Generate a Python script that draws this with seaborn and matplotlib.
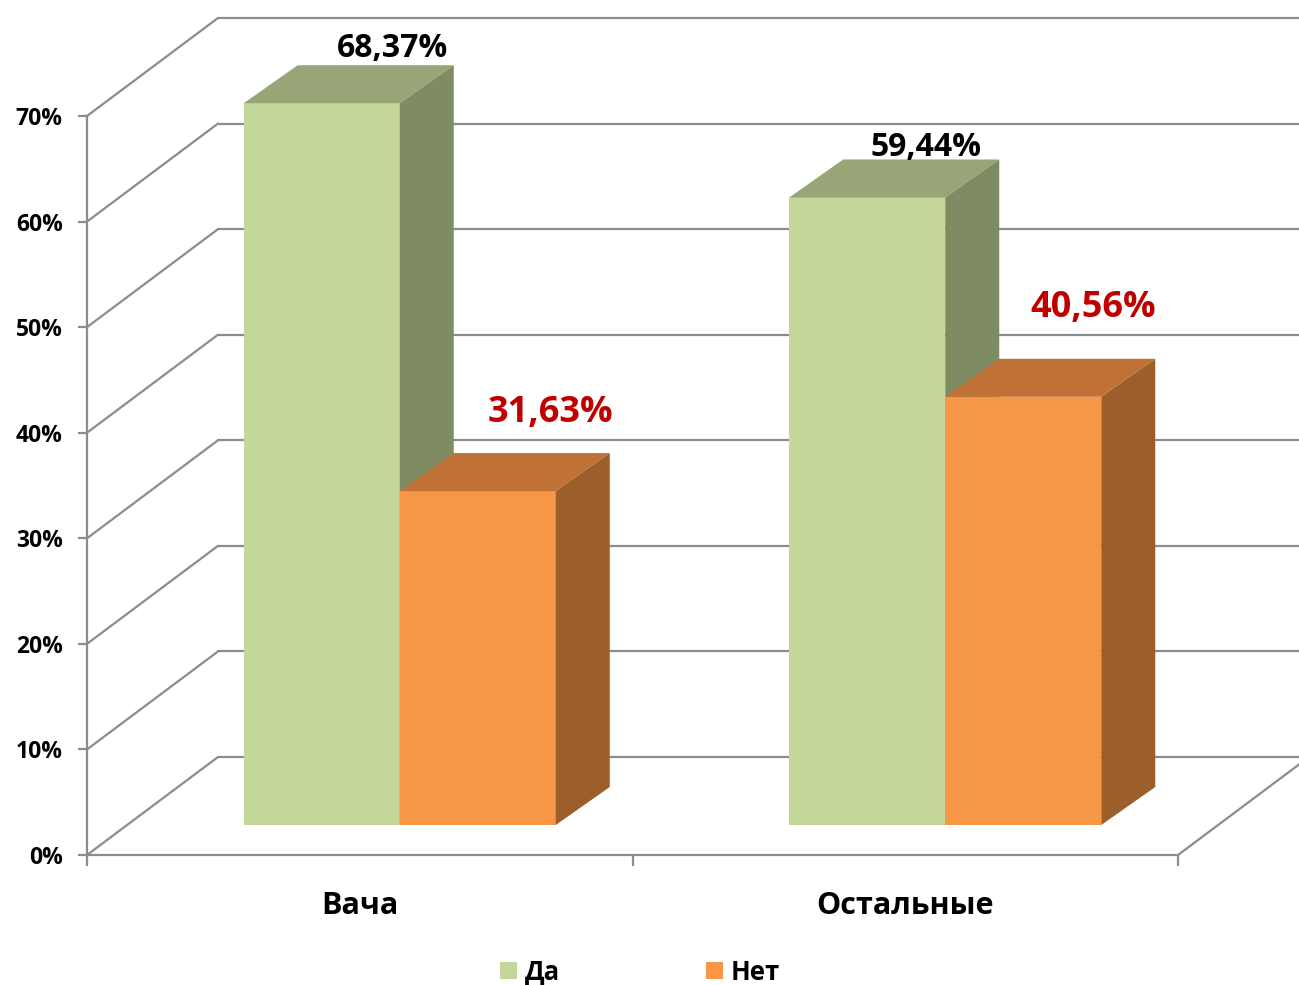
import matplotlib
matplotlib.use("Agg")
import matplotlib.pyplot as plt
import matplotlib.transforms as mtransforms
from matplotlib.patches import Polygon, Patch
import seaborn as sns
import pandas as pd

# ---- data ----
categories = ["Вача", "Остальные"]
series = ["Да", "Нет"]
da_values = [68.37, 59.44]
net_values = [31.63, 40.56]
da_labels = ["68,37%", "59,44%"]
net_labels = ["31,63%", "40,56%"]
y_ticks = [0, 10, 20, 30, 40, 50, 60, 70]
y_tick_labels = ["0%", "10%", "20%", "30%", "40%", "50%", "60%", "70%"]

df = pd.DataFrame({
    "cat": categories * 2,
    "series": [series[0]] * len(categories) + [series[1]] * len(categories),
    "value": da_values + net_values,
})

# ---- style ----
front_cols = ["#C4D79B", "#F79646"]
top_cols = ["#97A577", "#C07236"]
side_cols = ["#7F8B63", "#9C5F2C"]
label_cols = ["#000000", "#C00000"]
label_sizes = [23, 26]
grid_col = "#8C8C8C"

sns.set_theme(style="white")
plt.rcParams['font.family'] = ['Open Sans', 'DejaVu Sans']
plt.rcParams['font.weight'] = 'bold'
plt.rcParams['text.color'] = 'black'
plt.rcParams['xtick.color'] = 'black'
plt.rcParams['ytick.color'] = 'black'

W, H = 1299, 985
fig = plt.figure(figsize=(W / 100, H / 100), dpi=100)
ax_l, ax_b, ax_w, ax_h = 87, 130, 1091, 739
ax = fig.add_axes([ax_l / W, ax_b / H, ax_w / W, ax_h / H])

sns.barplot(data=df, x="cat", y="value", hue="series", order=categories,
            hue_order=series, palette=front_cols, saturation=1, width=0.572,
            gap=0, linewidth=0, legend=False, ax=ax)

ax.set_xlim(-0.5, 1.5)
ax.set_ylim(0, 70)
sx = ax_w / 2.0      # px per category unit
sy = ax_h / 70.0     # px per percent

# 3-D geometry (pixel offsets)
bar_off = (40, 30)       # front axis -> bar front plane
bar_depth = (54, 38)     # bar depth
wall_off = (131, 98)     # front axis -> back wall

front_tr = mtransforms.offset_copy(ax.transData, fig=fig, x=bar_off[0], y=bar_off[1], units='dots')
back_tr = mtransforms.offset_copy(ax.transData, fig=fig, x=wall_off[0], y=wall_off[1], units='dots')

# walls / grid
wdx, wdy = wall_off[0] / sx, wall_off[1] / sy
for L in y_ticks:
    ax.plot([-0.5, 1.5], [L, L], color=grid_col, lw=1.6, transform=back_tr, clip_on=False, zorder=1)
    ax.plot([-0.5, -0.5 + wdx], [L, L + wdy], color=grid_col, lw=1.6, clip_on=False, zorder=1)
ax.plot([1.5, 1.5 + wdx], [0, wdy], color=grid_col, lw=1.6, clip_on=False, zorder=1)

# bars: front faces from seaborn, plus top and side faces
ddx, ddy = bar_depth[0] / sx, bar_depth[1] / sy
label_offsets_px = [[(71, 55), (59, 50)], [(73, 78), (70, 89)]]
all_labels = [da_labels, net_labels]
for si, cont in enumerate(ax.containers):
    for ci, patch in enumerate(cont.patches):
        patch.set_transform(front_tr)
        patch.set_clip_on(False)
        patch.set_zorder(3 + si)
        x0, w, h = patch.get_x(), patch.get_width(), patch.get_height()
        top = Polygon([(x0, h), (x0 + w, h), (x0 + w + ddx, h + ddy), (x0 + ddx, h + ddy)],
                      closed=True, facecolor=top_cols[si], edgecolor='none',
                      transform=front_tr, clip_on=False, zorder=3 + si)
        side = Polygon([(x0 + w, 0), (x0 + w + ddx, ddy), (x0 + w + ddx, h + ddy), (x0 + w, h)],
                       closed=True, facecolor=side_cols[si], edgecolor='none',
                       transform=front_tr, clip_on=False, zorder=3 + si)
        ax.add_patch(top)
        ax.add_patch(side)
        ox, oy = label_offsets_px[si][ci]
        ax.annotate(all_labels[si][ci], xy=(x0 + w / 2, h), xycoords=front_tr,
                    xytext=(ox * 0.72, oy * 0.72), textcoords='offset points',
                    ha='center', va='center', fontsize=label_sizes[si], fontweight='bold',
                    color=label_cols[si], zorder=10, annotation_clip=False)

# axes styling
for s in ["top", "right"]:
    ax.spines[s].set_visible(False)
for s in ["left", "bottom"]:
    ax.spines[s].set_color(grid_col)
    ax.spines[s].set_linewidth(1.6)
    ax.spines[s].set_zorder(2)

ax.set_yticks(y_ticks)
ax.set_yticklabels(y_tick_labels)
ax.tick_params(axis='y', left=True, length=6.5, width=1.6, color=grid_col, direction='out',
               pad=11, labelsize=16.5, labelcolor='black')
ax.set_xticks([0, 1])
ax.set_xticklabels(categories)
ax.set_xticks([-0.5, 0.5, 1.5], minor=True)
ax.tick_params(axis='x', which='major', bottom=False, length=0, pad=26, labelsize=22,
               labelcolor='black')
ax.tick_params(axis='x', which='minor', bottom=True, length=8, width=1.6, color=grid_col, direction='out')
for t in ax.get_yticklabels() + ax.get_xticklabels():
    t.set_fontweight('bold')
ax.set_xlabel("")
ax.set_ylabel("")
ax.grid(False)

handles = [Patch(facecolor=front_cols[0], edgecolor='none'),
           Patch(facecolor=front_cols[1], edgecolor='none')]
leg = fig.legend(handles, series, loc='center', bbox_to_anchor=(640 / W, 1 - 972 / H),
                 ncol=2, frameon=False, handlelength=0.66, handleheight=0.66,
                 handletextpad=0.3, columnspacing=5.7,
                 prop={'size': 18.5, 'weight': 'bold'})
for t in leg.get_texts():
    t.set_color('black')

fig.savefig("out.png", dpi=100)
